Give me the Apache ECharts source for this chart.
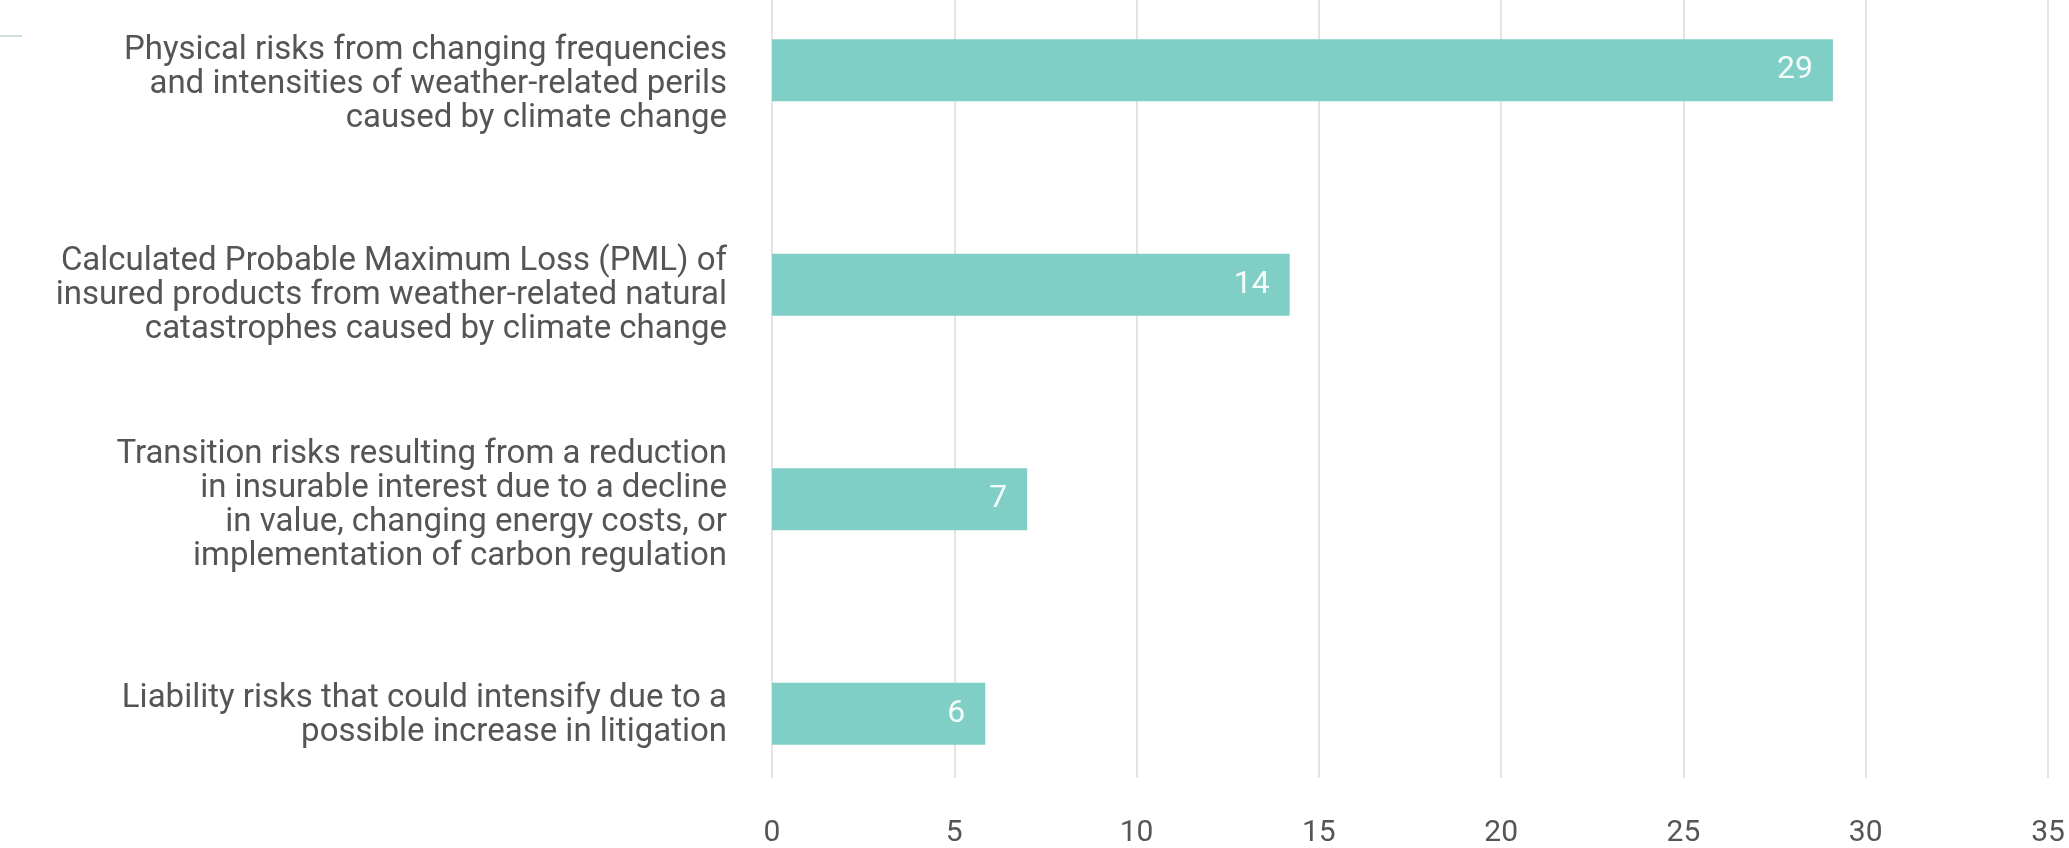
<!DOCTYPE html>
<html>
<head>
<meta charset="utf-8">
<style>
  html, body { margin: 0; padding: 0; background: #ffffff; overflow: hidden; width: 2069px; height: 848px; }
  #chart { position: absolute; left: 0; top: -37px; width: 2069px; height: 885px; }
</style>
<script src="https://cdn.jsdelivr.net/npm/echarts@6/dist/echarts.min.js"></script>
</head>
<body>
<div id="chart"></div>
<script>
const categories = [
  "Physical risks from changing frequencies\nand intensities of weather-related perils\ncaused by climate change",
  "Calculated Probable Maximum Loss (PML) of\ninsured products from weather-related natural\ncatastrophes caused by climate change",
  "Transition risks resulting from a reduction\nin insurable interest due to a decline\nin value, changing energy costs, or\nimplementation of carbon regulation",
  "Liability risks that could intensify due to a\npossible increase in litigation"
];
const values = [29.1, 14.2, 7.0, 5.85];
const labels = ["29", "14", "7", "6"];
const xTicks = { min: 0, max: 35, interval: 5 };

const chart = echarts.init(document.getElementById('chart'), null, { renderer: 'canvas' });
const FONT = 'Roboto, "Noto Sans", sans-serif';

// The chart container is 37px taller than the window and shifted up by 37px,
// so the bar band layout extends above the visible top edge like the reference.
chart.setOption({
  backgroundColor: '#ffffff',
  animation: false,
  grid: [
    { left: 772, right: 21, top: 0, bottom: 27, containLabel: false },   // bars
    { left: 772, right: 21, top: 37, bottom: 65, containLabel: false },  // x ticks + gridlines
    { left: 772, right: 21, top: 17, bottom: 27, containLabel: false }   // category labels
  ],
  xAxis: [
    {
      gridIndex: 0, type: 'value', min: xTicks.min, max: xTicks.max, interval: xTicks.interval,
      axisLine: { show: false }, axisTick: { show: false }, axisLabel: { show: false },
      splitLine: { show: false }
    },
    {
      gridIndex: 1, type: 'value', min: xTicks.min, max: xTicks.max, interval: xTicks.interval,
      axisLine: { show: false }, axisTick: { show: false },
      axisLabel: { show: true, color: '#555555', fontSize: 30, fontFamily: FONT, margin: 40 },
      splitLine: { show: true, lineStyle: { color: '#e4e4e4', width: 2 } }
    },
    {
      gridIndex: 2, type: 'value', min: xTicks.min, max: xTicks.max, show: false
    }
  ],
  yAxis: [
    {
      gridIndex: 0, type: 'category', data: categories, inverse: true,
      axisLine: { show: false }, axisTick: { show: false }, axisLabel: { show: false },
      splitLine: { show: false }
    },
    {
      gridIndex: 1, type: 'category', data: categories, inverse: true, show: false
    },
    {
      gridIndex: 2, type: 'category', data: categories, inverse: true,
      axisLine: { show: false }, axisTick: { show: false },
      axisLabel: {
        show: true, color: '#555555', fontSize: 33, fontFamily: FONT,
        lineHeight: 34, align: 'right', verticalAlign: 'middle', margin: 45
      },
      splitLine: { show: false }
    }
  ],
  series: [
    {
      type: 'bar',
      xAxisIndex: 0, yAxisIndex: 0,
      data: values,
      barWidth: 62,
      itemStyle: { color: '#80cfc7' },
      z: 3,
      label: {
        show: true, position: 'insideRight', distance: 20,
        color: 'rgba(255,255,255,0.92)', fontSize: 32, fontFamily: FONT,
        formatter: function (p) { return labels[p.dataIndex]; }
      }
    }
  ],
  graphic: [
    {
      type: 'line', shape: { x1: 0, y1: 73, x2: 22, y2: 73 },
      style: { stroke: '#cfe0e0', lineWidth: 2 }, silent: true
    }
  ]
});
</script>
</body>
</html>
